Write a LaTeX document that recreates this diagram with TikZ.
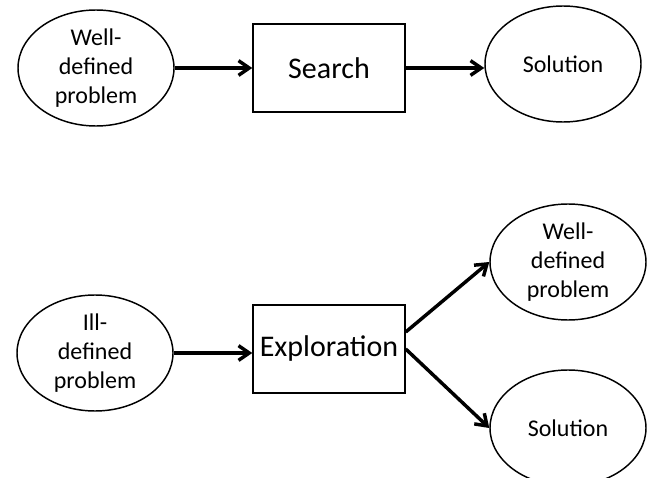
\documentclass[tikz,border=0pt]{standalone}
\usepackage{fontspec}
\setmainfont{Carlito}
\usetikzlibrary{arrows.meta,shapes.geometric}
\definecolor{line_black}{RGB}{0,0,0}

\begin{document}
\begin{tikzpicture}[->,>={Straight Barb[length=8pt,width=11pt]},x=0.75pt,y=-0.75pt]
    \tikzstyle{state}=[draw=line_black, ellipse, line width=1.1pt, minimum width=117pt, minimum height=87pt, inner sep=0pt, align=center, font=\fontsize{18}{21.7}\selectfont]
    \tikzstyle{task}=[draw=line_black, rectangle, line width=1.1pt, minimum width=114pt, minimum height=66pt, inner sep=0pt, font=\fontsize{22.5}{27}\selectfont]
    \tikzstyle{flow}=[draw=line_black, line width=2.6pt]

    \useasboundingbox (0,0) rectangle (647,478);
    \clip (0,0) rectangle (647,478);

    % search: well-defined case
    \node[state] (wdp)  at (96,68)   {Well-\\defined\\problem};
    \node[task]  (srch) at (329,68)  {Search};
    \node[state] (sol)  at (563,64)  {Solution};

    % exploration: ill-defined case
    \node[state] (idp)  at (95,353)  {Ill-\\defined\\problem};
    \node[task]  (expl) at (329,349) {Exploration};
    \node[state] (wdp2) at (568,262) {Well-\\defined\\problem};
    \node[state] (sol2) at (568,428) {Solution};

    \path
     (wdp) edge[flow] (srch)
     (srch.east) edge[flow] (srch.east -| sol.west)
     (idp.east) edge[flow] (idp.east -| expl.west)
     ([yshift=12.75pt]expl.east) edge[flow] (wdp2.west)
     (expl.east) edge[flow] (sol2.west)
     ;
\end{tikzpicture}
\end{document}
